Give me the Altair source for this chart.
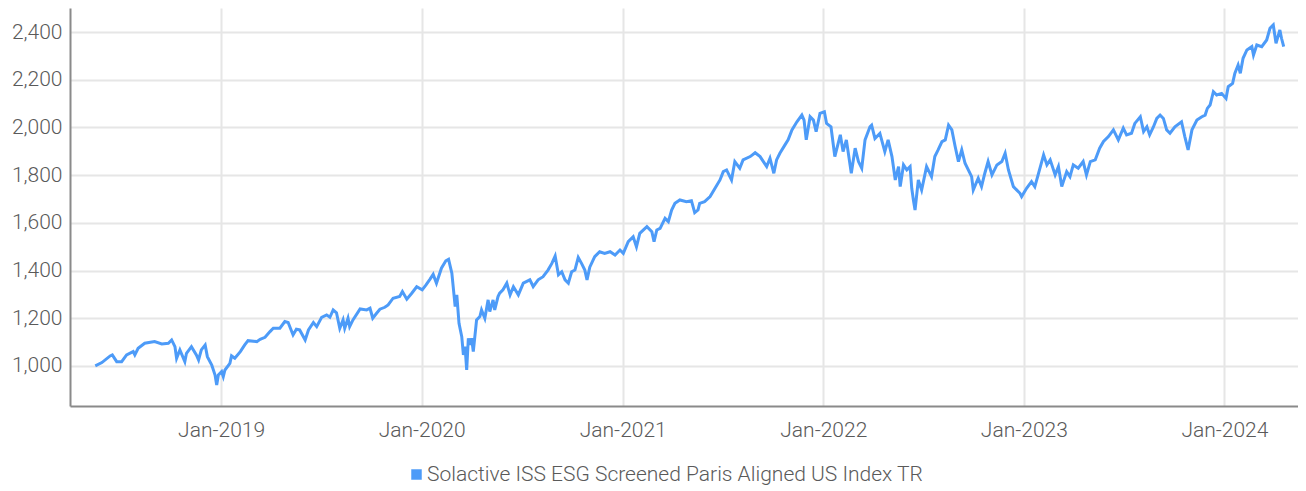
import altair as alt
import pandas as pd

series_name = "Solactive ISS ESG Screened Paris Aligned US Index TR"

dates = [
    "2018-05-17", "2018-05-29", "2018-06-13", "2018-06-17", "2018-06-25", "2018-07-04", "2018-07-13",
    "2018-07-25", "2018-07-28", "2018-08-03", "2018-08-15", "2018-09-02", "2018-09-15", "2018-09-27",
    "2018-10-03", "2018-10-09", "2018-10-12", "2018-10-18", "2018-10-27", "2018-10-30", "2018-11-08",
    "2018-11-17", "2018-11-21", "2018-11-26", "2018-12-03", "2018-12-07", "2018-12-15", "2018-12-21",
    "2018-12-24", "2018-12-27", "2019-01-02", "2019-01-05", "2019-01-08", "2019-01-17", "2019-01-20",
    "2019-01-26", "2019-02-05", "2019-02-13", "2019-02-19", "2019-03-07", "2019-03-13", "2019-03-22",
    "2019-03-31", "2019-04-06", "2019-04-18", "2019-04-27", "2019-05-03", "2019-05-12", "2019-05-18",
    "2019-05-24", "2019-06-03", "2019-06-09", "2019-06-18", "2019-06-24", "2019-07-03", "2019-07-12",
    "2019-07-18", "2019-07-24", "2019-07-30", "2019-08-05", "2019-08-11", "2019-08-14", "2019-08-20",
    "2019-08-23", "2019-08-29", "2019-09-11", "2019-09-23", "2019-09-29", "2019-10-04", "2019-10-11",
    "2019-10-17", "2019-10-26", "2019-11-01", "2019-11-10", "2019-11-22", "2019-11-27", "2019-12-05",
    "2019-12-14", "2019-12-23", "2020-01-02", "2020-01-09", "2020-01-16", "2020-01-22", "2020-01-28",
    "2020-02-06", "2020-02-14", "2020-02-19", "2020-02-25", "2020-02-28", "2020-03-02", "2020-03-05",
    "2020-03-09", "2020-03-14", "2020-03-17", "2020-03-20", "2020-03-23", "2020-03-26", "2020-03-29",
    "2020-04-01", "2020-04-04", "2020-04-10", "2020-04-16", "2020-04-19", "2020-04-25", "2020-05-01",
    "2020-05-04", "2020-05-10", "2020-05-13", "2020-05-19", "2020-05-22", "2020-05-28", "2020-06-04",
    "2020-06-10", "2020-06-16", "2020-06-25", "2020-07-04", "2020-07-16", "2020-07-22", "2020-07-31",
    "2020-08-09", "2020-08-18", "2020-08-25", "2020-08-31", "2020-09-06", "2020-09-12", "2020-09-18",
    "2020-09-24", "2020-09-30", "2020-10-06", "2020-10-12", "2020-10-18", "2020-10-24", "2020-10-28",
    "2020-11-02", "2020-11-11", "2020-11-20", "2020-11-29", "2020-12-09", "2020-12-18", "2020-12-27",
    "2021-01-02", "2021-01-11", "2021-01-20", "2021-01-26", "2021-02-01", "2021-02-14", "2021-02-23",
    "2021-02-27", "2021-03-04", "2021-03-10", "2021-03-19", "2021-03-25", "2021-03-31", "2021-04-06",
    "2021-04-15", "2021-04-27", "2021-05-06", "2021-05-12", "2021-05-18", "2021-05-21", "2021-05-30",
    "2021-06-09", "2021-06-18", "2021-06-27", "2021-07-03", "2021-07-09", "2021-07-18", "2021-07-24",
    "2021-08-02", "2021-08-08", "2021-08-21", "2021-08-30", "2021-09-08", "2021-09-14", "2021-09-20",
    "2021-09-26", "2021-10-03", "2021-10-08", "2021-10-14", "2021-10-23", "2021-10-29", "2021-11-05",
    "2021-11-14", "2021-11-23", "2021-11-27", "2021-12-01", "2021-12-08", "2021-12-14", "2021-12-19",
    "2021-12-26", "2022-01-03", "2022-01-07", "2022-01-15", "2022-01-22", "2022-02-01", "2022-02-06",
    "2022-02-12", "2022-02-21", "2022-02-28", "2022-03-06", "2022-03-12", "2022-03-18", "2022-03-27",
    "2022-03-30", "2022-04-05", "2022-04-14", "2022-04-23", "2022-04-29", "2022-05-06", "2022-05-12",
    "2022-05-18", "2022-05-21", "2022-05-27", "2022-06-02", "2022-06-08", "2022-06-11", "2022-06-14",
    "2022-06-17", "2022-06-23", "2022-06-29", "2022-07-08", "2022-07-17", "2022-07-23", "2022-07-29",
    "2022-08-05", "2022-08-11", "2022-08-17", "2022-08-23", "2022-08-29", "2022-09-04", "2022-09-10",
    "2022-09-16", "2022-09-28", "2022-10-01", "2022-10-10", "2022-10-16", "2022-10-22", "2022-10-28",
    "2022-11-04", "2022-11-13", "2022-11-22", "2022-11-28", "2022-12-04", "2022-12-13", "2022-12-25",
    "2022-12-28", "2023-01-06", "2023-01-15", "2023-01-21", "2023-01-27", "2023-02-06", "2023-02-12",
    "2023-02-18", "2023-02-27", "2023-03-05", "2023-03-11", "2023-03-20", "2023-03-26", "2023-04-01",
    "2023-04-10", "2023-04-19", "2023-04-25", "2023-05-02", "2023-05-11", "2023-05-19", "2023-05-26",
    "2023-06-04", "2023-06-13", "2023-06-22", "2023-07-01", "2023-07-07", "2023-07-16", "2023-07-22",
    "2023-08-01", "2023-08-07", "2023-08-13", "2023-08-18", "2023-08-25", "2023-08-31", "2023-09-06",
    "2023-09-12", "2023-09-18", "2023-09-24", "2023-10-03", "2023-10-15", "2023-10-21", "2023-10-27",
    "2023-11-03", "2023-11-12", "2023-11-21", "2023-11-27", "2023-12-01", "2023-12-06", "2023-12-12",
    "2023-12-18", "2023-12-27", "2024-01-04", "2024-01-08", "2024-01-16", "2024-01-20", "2024-01-26",
    "2024-01-30", "2024-02-04", "2024-02-11", "2024-02-20", "2024-02-23", "2024-02-29", "2024-03-09",
    "2024-03-18", "2024-03-24", "2024-03-30", "2024-04-04", "2024-04-11", "2024-04-14", "2024-04-18",
]

values = [
    1000, 1014, 1042, 1046, 1018, 1018, 1046,
    1060, 1046, 1074, 1095, 1102, 1092, 1095,
    1109, 1081, 1032, 1067, 1018, 1053, 1081,
    1046, 1025, 1067, 1088, 1039, 1004, 962,
    920, 962, 976, 955, 983, 1011, 1042,
    1032, 1060, 1088, 1106, 1102, 1112, 1120,
    1144, 1158, 1158, 1186, 1182, 1130, 1154,
    1151, 1109, 1151, 1182, 1165, 1204, 1214,
    1204, 1235, 1223, 1158, 1193, 1158, 1200,
    1165, 1193, 1239, 1235, 1242, 1200, 1221,
    1238, 1246, 1256, 1284, 1291, 1312, 1280,
    1305, 1332, 1319, 1340, 1363, 1384, 1347,
    1410, 1441, 1447, 1389, 1319, 1249, 1298,
    1179, 1123, 1046, 1081, 983, 1116, 1088,
    1116, 1060, 1193, 1207, 1235, 1200, 1277,
    1228, 1277, 1235, 1291, 1305, 1319, 1347,
    1298, 1332, 1298, 1347, 1361, 1333, 1361,
    1374, 1402, 1430, 1461, 1382, 1395, 1361,
    1347, 1395, 1402, 1455, 1430, 1402, 1361,
    1414, 1458, 1479, 1472, 1479, 1465, 1486,
    1472, 1521, 1542, 1500, 1556, 1584, 1563,
    1521, 1570, 1577, 1619, 1605, 1654, 1682,
    1696, 1689, 1693, 1643, 1654, 1682, 1689,
    1710, 1745, 1780, 1815, 1822, 1780, 1857,
    1829, 1864, 1878, 1894, 1878, 1857, 1836,
    1871, 1808, 1864, 1892, 1926, 1948, 1990,
    2024, 2052, 2031, 1948, 2045, 2031, 1982,
    2059, 2066, 2017, 2003, 1878, 1969, 1899,
    1948, 1808, 1913, 1857, 1829, 1948, 2003,
    2010, 1954, 1975, 1899, 1948, 1878, 1780,
    1836, 1752, 1843, 1822, 1836, 1745, 1696,
    1654, 1780, 1738, 1836, 1794, 1878, 1906,
    1941, 1948, 2010, 1990, 1920, 1857, 1906,
    1850, 1794, 1738, 1787, 1752, 1808, 1857,
    1801, 1843, 1857, 1892, 1822, 1752, 1724,
    1710, 1745, 1773, 1752, 1801, 1885, 1843,
    1864, 1801, 1836, 1752, 1815, 1794, 1843,
    1829, 1857, 1801, 1857, 1864, 1913, 1941,
    1962, 1990, 1948, 1997, 1969, 1976, 2017,
    2045, 1983, 2003, 1969, 2003, 2038, 2052,
    2038, 1990, 1976, 2003, 2024, 1962, 1906,
    1990, 2031, 2045, 2052, 2080, 2094, 2150,
    2136, 2143, 2122, 2171, 2185, 2227, 2262,
    2227, 2290, 2325, 2339, 2304, 2346, 2339,
    2367, 2416, 2430, 2353, 2409, 2374, 2339,
]

y_ticks = [1000, 1200, 1400, 1600, 1800, 2000, 2200, 2400]
x_tick_years = [2019, 2020, 2021, 2022, 2023, 2024]

df = pd.DataFrame({
    "date": pd.to_datetime(dates),
    "value": values,
    "series": [series_name] * len(values),
})

FONT = "Roboto"
TEXT_COLOR = "#5a5a5a"
LINE_COLOR = "#4d9bf8"
FS = 21

chart = (
    alt.Chart(df)
    .mark_line(strokeWidth=3, interpolate="linear")
    .encode(
        x=alt.X(
            "date:T",
            title=None,
            scale=alt.Scale(
                domain=[
                    alt.DateTime(year=2018, month=4, date=1),
                    alt.DateTime(year=2024, month=5, date=14),
                ],
                nice=False,
            ),
            axis=alt.Axis(
                values=[alt.DateTime(year=y, month=1, date=1) for y in x_tick_years],
                format="%b-%Y",
                grid=True,
                gridColor="#e6e6e6",
                gridWidth=2,
                ticks=False,
                domainColor="#8a8a8a",
                domainWidth=2,
                labelFont=FONT,
                labelFontSize=FS,
                labelFontWeight=300,
                labelColor=TEXT_COLOR,
                labelPadding=13,
            ),
        ),
        y=alt.Y(
            "value:Q",
            title=None,
            scale=alt.Scale(domain=[832, 2501], nice=False, zero=False),
            axis=alt.Axis(
                values=y_ticks,
                format=",.0f",
                grid=True,
                gridColor="#e6e6e6",
                gridWidth=2,
                ticks=False,
                domainColor="#8a8a8a",
                domainWidth=2,
                labelFont=FONT,
                labelFontSize=FS,
                labelFontWeight=300,
                labelColor=TEXT_COLOR,
                labelPadding=8,
            ),
        ),
        color=alt.Color(
            "series:N",
            scale=alt.Scale(domain=[series_name], range=[LINE_COLOR]),
            legend=alt.Legend(
                title=None,
                orient="none",
                legendX=336,
                legendY=456,
                symbolType="square",
                symbolSize=110,
                symbolFillColor=LINE_COLOR,
                symbolStrokeWidth=0,
                labelFont=FONT,
                labelFontSize=FS,
                labelFontWeight=300,
                labelColor=TEXT_COLOR,
                labelOffset=0,
                labelLimit=0,
            ),
        ),
    )
    .properties(
        width=1228,
        height=398,
        autosize=alt.AutoSizeParams(type="none"),
        padding={"left": 62, "top": 0, "right": 0, "bottom": 83},
    )
    .configure_view(stroke=None)
)

chart.save("out.html", embed_options={"renderer": "svg", "actions": False})
